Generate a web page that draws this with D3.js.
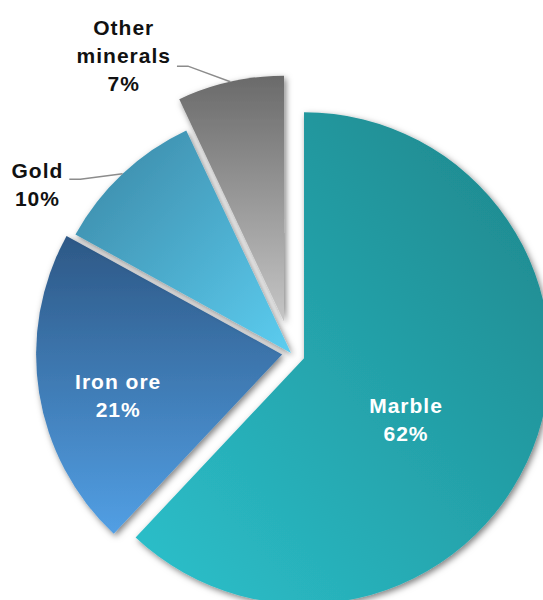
<!DOCTYPE html>
<html><head><meta charset="utf-8">
<script src="https://cdn.jsdelivr.net/npm/d3@7"></script>
<style>body{margin:0;background:#fff;overflow:hidden}</style>
</head><body><svg id="c" width="543" height="600"></svg>
<script>
// ---- data ----
const categories = ["Marble", "Iron ore", "Gold", "Other minerals"];
const values = [62, 21, 10, 7];
const labelLines = [["Marble", "62%"], ["Iron ore", "21%"], ["Gold", "10%"], ["Other", "minerals", "7%"]];
// ---- styling ----
const explode = [14, 9, 0, 32];
const gradStops = [["#1d858a", "#2cc1cc"], ["#2d5886", "#529fe4"], ["#3a86a4", "#5ccdf0"], ["#6a6a6a", "#c6c6c6"]];
const gradDir = [[1, 0, 0, 1], [0, 0, 0, 1], [0, 0, 1, 1], [0, 0, 0, 1]];
const labelInside = [true, true, false, false];
const labelPolar = [[12.4, 0.50], [-7.5, 0.695], [-7.3, 1.11], [-8.0, 1.11]]; // angle shift (deg), radius fraction
const outsideFirstBaseline = [0, 0, -1, -31];

const W = 543, H = 600, cx = 291, cy = 353, R = 246, lineH = 28;
const svg = d3.select("#c");
const defs = svg.append("defs");
const f = defs.append("filter").attr("id", "sh").attr("x", "-20%").attr("y", "-20%").attr("width", "140%").attr("height", "140%");
f.append("feDropShadow").attr("dx", 2).attr("dy", 2.5).attr("stdDeviation", 3).attr("flood-color", "#000").attr("flood-opacity", 0.5);

gradStops.forEach((s, i) => {
  const g = defs.append("linearGradient").attr("id", "g" + i)
    .attr("x1", gradDir[i][0]).attr("y1", gradDir[i][1]).attr("x2", gradDir[i][2]).attr("y2", gradDir[i][3]);
  g.append("stop").attr("offset", 0).attr("stop-color", s[0]);
  g.append("stop").attr("offset", 1).attr("stop-color", s[1]);
});

const pie = d3.pie().sort(null).value(d => d)(values);
const arc = d3.arc().innerRadius(0).outerRadius(R);
const rad = Math.PI / 180;
function dir(a) { return [Math.sin(a), -Math.cos(a)]; }

const root = svg.append("g").attr("transform", `translate(${cx},${cy})`);
const slices = pie.map((p, i) => {
  const mid = (p.startAngle + p.endAngle) / 2;
  const d = dir(mid);
  return { p, i, mid, ox: d[0] * explode[i], oy: d[1] * explode[i] };
});

root.selectAll("path.slice").data(slices).join("path")
  .attr("class", "slice")
  .attr("transform", s => `translate(${s.ox},${s.oy})`)
  .attr("d", s => arc(s.p))
  .attr("fill", s => `url(#g${s.i})`)
  .attr("filter", "url(#sh)");

const font = "'Liberation Sans', Arial, sans-serif";
slices.forEach(s => {
  const i = s.i;
  const a = s.mid + labelPolar[i][0] * rad;
  const r = labelPolar[i][1] * R;
  const d = dir(a);
  const px = s.ox + d[0] * r, py = s.oy + d[1] * r;
  if (labelInside[i]) {
    const t = root.append("text").attr("text-anchor", "middle")
      .attr("font-family", font).attr("font-weight", "bold").attr("font-size", 21)
      .attr("letter-spacing", 1).attr("fill", "#fff");
    const n = labelLines[i].length;
    labelLines[i].forEach((ln, k) => {
      t.append("tspan").attr("x", px).attr("y", py + (k - (n - 1) / 2) * lineH).text(ln);
    });
  } else {
    const dm = dir(s.mid);
    const ax = s.ox + dm[0] * R, ay = s.oy + dm[1] * R;
    const ex = px - 11;
    root.append("path").attr("d", `M${ax},${ay}L${px},${py}L${ex},${py}`)
      .attr("fill", "none").attr("stroke", "#8c8c8c").attr("stroke-width", 1.5);
    const t = root.append("text").attr("text-anchor", "middle")
      .attr("font-family", font).attr("font-weight", "bold").attr("font-size", 21)
      .attr("letter-spacing", 1).attr("fill", "#111");
    const tsp = labelLines[i].map((ln, k) =>
      t.append("tspan").attr("y", py + outsideFirstBaseline[i] + k * lineH).text(ln));
    const maxW = d3.max(tsp, q => q.node().getComputedTextLength());
    const centerX = ex - 6 - maxW / 2;
    tsp.forEach(q => q.attr("x", centerX));
  }
});
</script>
</body></html>
